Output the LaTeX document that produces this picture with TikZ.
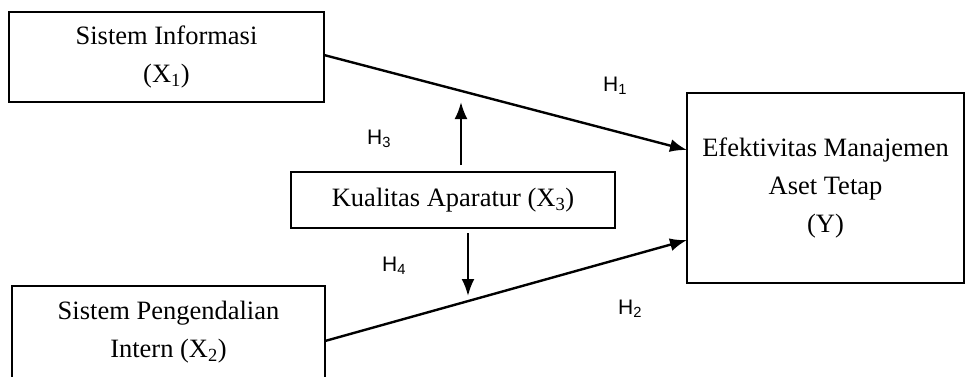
\documentclass[tikz,border=0pt]{standalone}
\usepackage{fontspec}
\setmainfont{Liberation Serif}
\newfontfamily\hfont{Liberation Sans}
\usetikzlibrary{arrows.meta}
\begin{document}
\begin{tikzpicture}[x=1pt,y=-1pt,
  box/.style={draw=black,line width=1.6pt,rectangle,align=center,inner sep=0pt,
    font=\fontsize{26.5}{38}\selectfont},
  conn/.style={line width=2.4pt,-{Latex[length=17pt,width=13pt]}},
  hlab/.style={font=\hfont\fontsize{21}{24}\selectfont,inner sep=0pt}]
\useasboundingbox (0,0) rectangle (966,376);
\node[box,minimum width=315pt,minimum height=90pt] (x1) at (166.5,57) {Sistem Informasi\\(X\textsubscript{1})};
\node[box,minimum width=313pt,minimum height=92pt] (x2) at (168.5,332) {Sistem Pengendalian\\Intern (X\textsubscript{2})};
\node[box,minimum width=324pt,minimum height=56pt] (x3) at (453,200) {Kualitas Aparatur (X\textsubscript{3})};
\node[box,minimum width=277pt,minimum height=190pt] (y) at (825.5,188) {Efektivitas Manajemen\\Aset Tetap\\(Y)};
\coordinate (a1s) at (324,55);
\coordinate (a1e) at (687,150);
\coordinate (a2s) at (325,341);
\coordinate (a2e) at (687,240);
\coordinate (u1) at (461,165);
\coordinate (u2) at (461,102);
\coordinate (d1) at (468,233);
\coordinate (d2) at (468,296);
\draw[conn] (a1s) -- (a1e);
\draw[conn] (a2s) -- (a2e);
\draw[conn] (u1) -- (u2);
\draw[conn] (d1) -- (d2);
\node[hlab] (h1) at (615,86) {H\textsubscript{1}};
\node[hlab] (h2) at (630,309) {H\textsubscript{2}};
\node[hlab] (h3) at (379,139) {H\textsubscript{3}};
\node[hlab] (h4) at (394,266) {H\textsubscript{4}};
\end{tikzpicture}
\end{document}
